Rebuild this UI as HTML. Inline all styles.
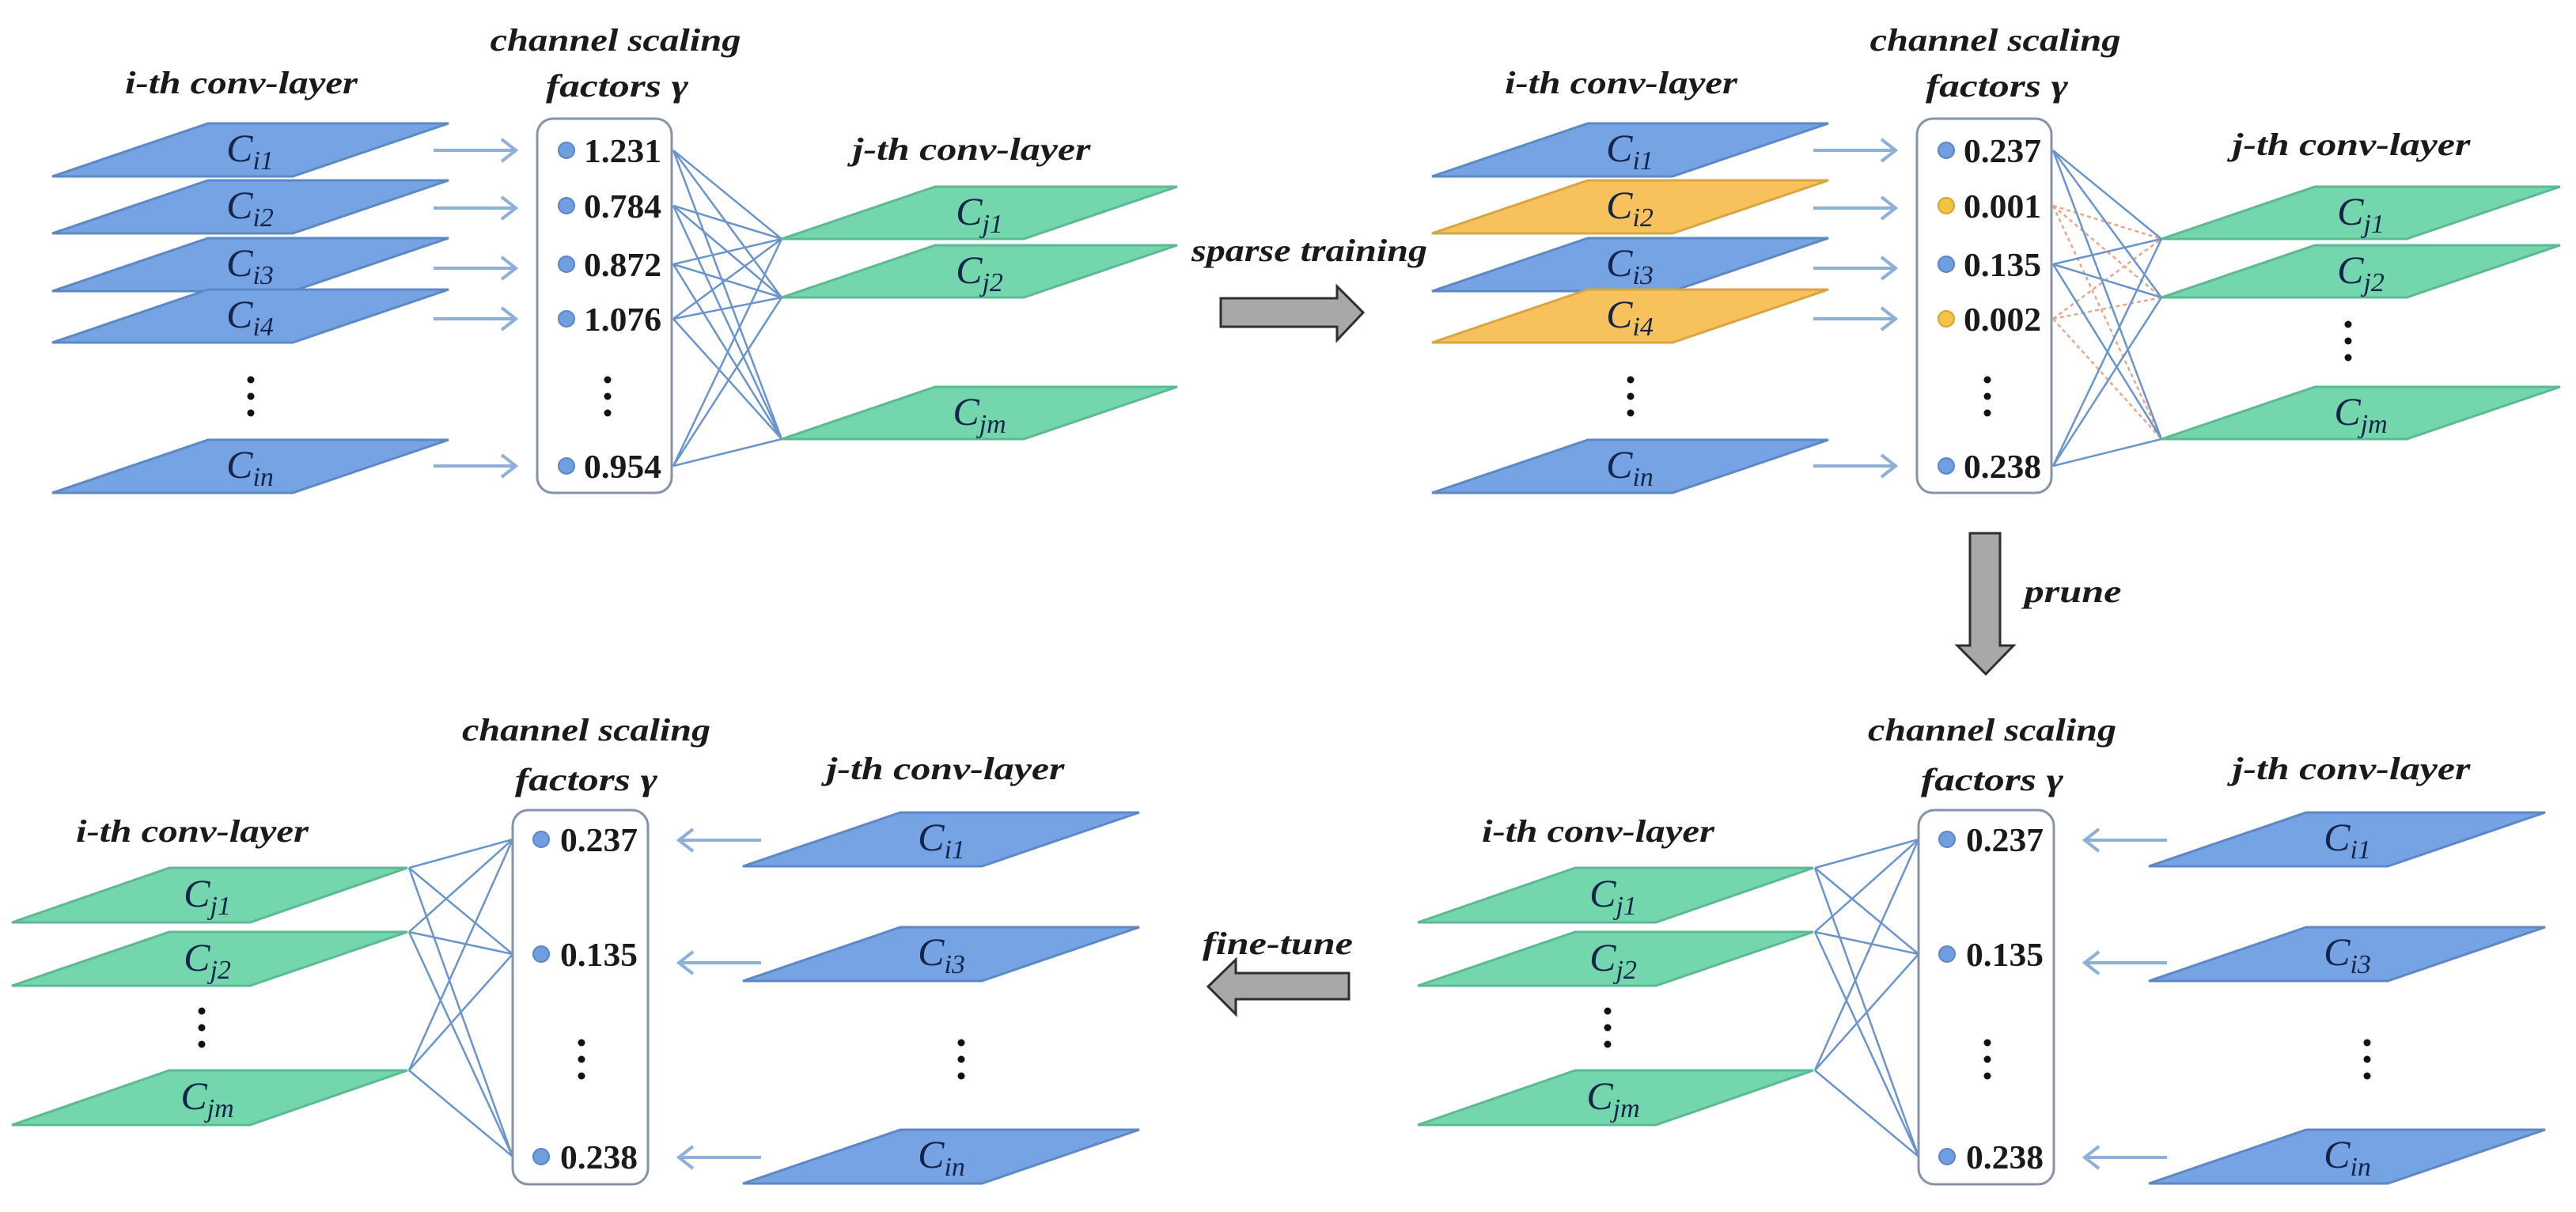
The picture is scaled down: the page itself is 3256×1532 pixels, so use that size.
<!DOCTYPE html>
<html><head><meta charset="utf-8">
<style>
html,body{margin:0;padding:0;background:#fff;}
svg{display:block;}
.lb{font-family:"Liberation Serif",serif;font-style:italic;font-weight:bold;font-size:40px;fill:#1a1a1a;}
.v{font-family:"Liberation Serif",serif;font-weight:bold;font-size:42px;fill:#1a1a1a;}
.c{font-family:"Liberation Serif",serif;font-style:italic;font-size:50px;fill:#15244a;}
.s{font-size:34px;}
.pb{fill:#76a3e3;stroke:#5d88c6;stroke-width:3;}
.po{fill:#f7c15c;stroke:#d9a544;stroke-width:3;}
.pg{fill:#74d6ad;stroke:#5cb993;stroke-width:3;}
.box{fill:#fff;stroke:#8593aa;stroke-width:3;}
.ar{stroke:#8db0da;stroke-width:4;fill:none;}
.cn{stroke:#6a95cc;stroke-width:2.5;fill:none;}
.cd{stroke:#e8a78c;stroke-width:2.5;fill:none;stroke-dasharray:5 4;}
.ga{fill:#a9a7a8;stroke:#2f2f2f;stroke-width:3;}
</style></head>
<body>
<svg width="3256" height="1532" viewBox="0 0 3256 1532" xmlns="http://www.w3.org/2000/svg">
<defs>
<g id="dots"><circle cx="0" cy="0" r="4.5" fill="#111"/><circle cx="0" cy="21" r="4.5" fill="#111"/><circle cx="0" cy="42" r="4.5" fill="#111"/></g>
<g id="arR"><line x1="0" y1="0" x2="102" y2="0" class="ar"/><polyline points="86,-14 104,0 86,14" class="ar"/></g>
<g id="arL"><line x1="0" y1="0" x2="104" y2="0" class="ar"/><polyline points="18,-14 0,0 18,14" class="ar"/></g>
</defs>

<!-- ================= PANEL 1 ================= -->
<text class="lb" x="305" y="118" text-anchor="middle" textLength="294" lengthAdjust="spacingAndGlyphs">i-th conv-layer</text>
<text class="lb" x="778" y="64" text-anchor="middle" textLength="317" lengthAdjust="spacingAndGlyphs">channel scaling</text>
<text class="lb" x="780" y="122" text-anchor="middle" textLength="180" lengthAdjust="spacingAndGlyphs">factors γ</text>
<text class="lb" x="1228" y="202" text-anchor="middle" textLength="301" lengthAdjust="spacingAndGlyphs">j-th conv-layer</text>

<polygon class="pb" points="263,156 567,156 370,223 66,223"/>
<text class="c" x="316" y="204" text-anchor="middle">C<tspan class="s" dy="10">i1</tspan></text>
<polygon class="pb" points="263,228 567,228 370,295 66,295"/>
<text class="c" x="316" y="276" text-anchor="middle">C<tspan class="s" dy="10">i2</tspan></text>
<polygon class="pb" points="263,301 567,301 370,368 66,368"/>
<text class="c" x="316" y="349" text-anchor="middle">C<tspan class="s" dy="10">i3</tspan></text>
<polygon class="pb" points="263,366 567,366 370,433 66,433"/>
<text class="c" x="316" y="414" text-anchor="middle">C<tspan class="s" dy="10">i4</tspan></text>
<use href="#dots" x="317" y="480"/>
<polygon class="pb" points="263,556 567,556 370,623 66,623"/>
<text class="c" x="316" y="604" text-anchor="middle">C<tspan class="s" dy="10">in</tspan></text>

<use href="#arR" x="548" y="190"/>
<use href="#arR" x="548" y="263"/>
<use href="#arR" x="548" y="339"/>
<use href="#arR" x="548" y="403"/>
<use href="#arR" x="548" y="589"/>

<rect class="box" x="679" y="150" width="170" height="473" rx="20"/>
<circle cx="716" cy="190" r="10" fill="#6f9fe0" stroke="#5a86c5" stroke-width="2"/>
<text class="v" x="738" y="205" textLength="98" lengthAdjust="spacingAndGlyphs">1.231</text>
<circle cx="716" cy="260" r="10" fill="#6f9fe0" stroke="#5a86c5" stroke-width="2"/>
<text class="v" x="738" y="275" textLength="98" lengthAdjust="spacingAndGlyphs">0.784</text>
<circle cx="716" cy="334" r="10" fill="#6f9fe0" stroke="#5a86c5" stroke-width="2"/>
<text class="v" x="738" y="349" textLength="98" lengthAdjust="spacingAndGlyphs">0.872</text>
<circle cx="716" cy="403" r="10" fill="#6f9fe0" stroke="#5a86c5" stroke-width="2"/>
<text class="v" x="738" y="418" textLength="98" lengthAdjust="spacingAndGlyphs">1.076</text>
<use href="#dots" x="768" y="480"/>
<circle cx="716" cy="589" r="10" fill="#6f9fe0" stroke="#5a86c5" stroke-width="2"/>
<text class="v" x="738" y="604" textLength="98" lengthAdjust="spacingAndGlyphs">0.954</text>

<g class="cn">
<path d="M851,190 L988,302 M851,190 L988,376 M851,190 L988,555
M851,260 L988,302 M851,260 L988,376 M851,260 L988,555
M851,334 L988,302 M851,334 L988,376 M851,334 L988,555
M851,403 L988,302 M851,403 L988,376 M851,403 L988,555
M851,589 L988,302 M851,589 L988,376 M851,589 L988,555"/>
</g>

<polygon class="pg" points="1182,236 1488,236 1294,302 988,302"/>
<text class="c" x="1238" y="284" text-anchor="middle">C<tspan class="s" dy="10">j1</tspan></text>
<polygon class="pg" points="1182,310 1488,310 1294,376 988,376"/>
<text class="c" x="1238" y="358" text-anchor="middle">C<tspan class="s" dy="10">j2</tspan></text>
<polygon class="pg" points="1182,489 1488,489 1294,555 988,555"/>
<text class="c" x="1238" y="537" text-anchor="middle">C<tspan class="s" dy="10">jm</tspan></text>

<!-- sparse training arrow -->
<text class="lb" x="1655" y="330" text-anchor="middle" textLength="298" lengthAdjust="spacingAndGlyphs">sparse training</text>
<polygon class="ga" points="1543,377 1690,377 1690,362 1723,395 1690,430 1690,413 1543,413"/>

<!-- ================= PANEL 2 ================= -->
<g transform="translate(1744,0)">
<text class="lb" x="305" y="118" text-anchor="middle" textLength="294" lengthAdjust="spacingAndGlyphs">i-th conv-layer</text>
<text class="lb" x="778" y="64" text-anchor="middle" textLength="317" lengthAdjust="spacingAndGlyphs">channel scaling</text>
<text class="lb" x="780" y="122" text-anchor="middle" textLength="180" lengthAdjust="spacingAndGlyphs">factors γ</text>
<text class="lb" x="1228" y="196" text-anchor="middle" textLength="301" lengthAdjust="spacingAndGlyphs">j-th conv-layer</text>

<polygon class="pb" points="263,156 567,156 370,223 66,223"/>
<text class="c" x="316" y="204" text-anchor="middle">C<tspan class="s" dy="10">i1</tspan></text>
<polygon class="po" points="263,228 567,228 370,295 66,295"/>
<text class="c" x="316" y="276" text-anchor="middle">C<tspan class="s" dy="10">i2</tspan></text>
<polygon class="pb" points="263,301 567,301 370,368 66,368"/>
<text class="c" x="316" y="349" text-anchor="middle">C<tspan class="s" dy="10">i3</tspan></text>
<polygon class="po" points="263,366 567,366 370,433 66,433"/>
<text class="c" x="316" y="414" text-anchor="middle">C<tspan class="s" dy="10">i4</tspan></text>
<use href="#dots" x="317" y="480"/>
<polygon class="pb" points="263,556 567,556 370,623 66,623"/>
<text class="c" x="316" y="604" text-anchor="middle">C<tspan class="s" dy="10">in</tspan></text>

<use href="#arR" x="548" y="190"/>
<use href="#arR" x="548" y="263"/>
<use href="#arR" x="548" y="339"/>
<use href="#arR" x="548" y="403"/>
<use href="#arR" x="548" y="589"/>

<rect class="box" x="679" y="150" width="170" height="473" rx="20"/>
<circle cx="716" cy="190" r="10" fill="#6f9fe0" stroke="#5a86c5" stroke-width="2"/>
<text class="v" x="738" y="205" textLength="98" lengthAdjust="spacingAndGlyphs">0.237</text>
<circle cx="716" cy="260" r="10" fill="#f3c343" stroke="#d2a32d" stroke-width="2"/>
<text class="v" x="738" y="275" textLength="98" lengthAdjust="spacingAndGlyphs">0.001</text>
<circle cx="716" cy="334" r="10" fill="#6f9fe0" stroke="#5a86c5" stroke-width="2"/>
<text class="v" x="738" y="349" textLength="98" lengthAdjust="spacingAndGlyphs">0.135</text>
<circle cx="716" cy="403" r="10" fill="#f3c343" stroke="#d2a32d" stroke-width="2"/>
<text class="v" x="738" y="418" textLength="98" lengthAdjust="spacingAndGlyphs">0.002</text>
<use href="#dots" x="768" y="480"/>
<circle cx="716" cy="589" r="10" fill="#6f9fe0" stroke="#5a86c5" stroke-width="2"/>
<text class="v" x="738" y="604" textLength="98" lengthAdjust="spacingAndGlyphs">0.238</text>

<path class="cd" d="M851,260 L988,302 M851,260 L988,376 M851,260 L988,555
M851,403 L988,302 M851,403 L988,376 M851,403 L988,555"/>
<path class="cn" d="M851,190 L988,302 M851,190 L988,376 M851,190 L988,555
M851,334 L988,302 M851,334 L988,376 M851,334 L988,555
M851,589 L988,302 M851,589 L988,376 M851,589 L988,555"/>

<polygon class="pg" points="1182,236 1492,236 1298,302 988,302"/>
<text class="c" x="1240" y="284" text-anchor="middle">C<tspan class="s" dy="10">j1</tspan></text>
<polygon class="pg" points="1182,310 1492,310 1298,376 988,376"/>
<text class="c" x="1240" y="358" text-anchor="middle">C<tspan class="s" dy="10">j2</tspan></text>
<use href="#dots" x="1224" y="410"/>
<polygon class="pg" points="1182,489 1492,489 1298,555 988,555"/>
<text class="c" x="1240" y="537" text-anchor="middle">C<tspan class="s" dy="10">jm</tspan></text>
</g>

<!-- prune arrow -->
<polygon class="ga" points="2490,674 2528,674 2528,816 2545,816 2510,852 2474,816 2490,816"/>
<text class="lb" x="2620" y="761" text-anchor="middle" textLength="123" lengthAdjust="spacingAndGlyphs">prune</text>

<!-- fine-tune arrow -->
<text class="lb" x="1615" y="1206" text-anchor="middle" textLength="190" lengthAdjust="spacingAndGlyphs">fine-tune</text>
<polygon class="ga" points="1705,1230 1562,1230 1562,1213 1527,1247 1562,1282 1562,1263 1705,1263"/>

<!-- ================= PANEL 3 & 4 ================= -->
<g id="p3">
<text class="lb" x="243" y="1064" text-anchor="middle" textLength="294" lengthAdjust="spacingAndGlyphs">i-th conv-layer</text>
<text class="lb" x="741" y="936" text-anchor="middle" textLength="314" lengthAdjust="spacingAndGlyphs">channel scaling</text>
<text class="lb" x="741" y="999" text-anchor="middle" textLength="180" lengthAdjust="spacingAndGlyphs">factors γ</text>
<text class="lb" x="1195" y="985" text-anchor="middle" textLength="301" lengthAdjust="spacingAndGlyphs">j-th conv-layer</text>

<polygon class="pg" points="214,1097 515,1097 316,1166 15,1166"/>
<text class="c" x="262" y="1146" text-anchor="middle">C<tspan class="s" dy="10">j1</tspan></text>
<polygon class="pg" points="214,1178 515,1178 316,1246 15,1246"/>
<text class="c" x="262" y="1227" text-anchor="middle">C<tspan class="s" dy="10">j2</tspan></text>
<use href="#dots" x="255" y="1278"/>
<polygon class="pg" points="214,1353 515,1353 316,1422 15,1422"/>
<text class="c" x="262" y="1402" text-anchor="middle">C<tspan class="s" dy="10">jm</tspan></text>

<path class="cn" d="M517,1097 L648,1061 M517,1097 L648,1206 M517,1097 L648,1462
M517,1178 L648,1061 M517,1178 L648,1206 M517,1178 L648,1462
M517,1353 L648,1061 M517,1353 L648,1206 M517,1353 L648,1462"/>

<rect class="box" x="648" y="1024" width="171" height="473" rx="20"/>
<circle cx="684" cy="1061" r="10" fill="#6f9fe0" stroke="#5a86c5" stroke-width="2"/>
<text class="v" x="708" y="1076" textLength="98" lengthAdjust="spacingAndGlyphs">0.237</text>
<circle cx="684" cy="1206" r="10" fill="#6f9fe0" stroke="#5a86c5" stroke-width="2"/>
<text class="v" x="708" y="1221" textLength="98" lengthAdjust="spacingAndGlyphs">0.135</text>
<use href="#dots" x="735" y="1318"/>
<circle cx="684" cy="1462" r="10" fill="#6f9fe0" stroke="#5a86c5" stroke-width="2"/>
<text class="v" x="708" y="1477" textLength="98" lengthAdjust="spacingAndGlyphs">0.238</text>

<use href="#arL" x="858" y="1062"/>
<use href="#arL" x="858" y="1217"/>
<use href="#arL" x="858" y="1463"/>

<polygon class="pb" points="1138,1027 1440,1027 1241,1095 939,1095"/>
<text class="c" x="1190" y="1075" text-anchor="middle">C<tspan class="s" dy="10">i1</tspan></text>
<polygon class="pb" points="1138,1172 1440,1172 1241,1240 939,1240"/>
<text class="c" x="1190" y="1220" text-anchor="middle">C<tspan class="s" dy="10">i3</tspan></text>
<use href="#dots" x="1215" y="1318"/>
<polygon class="pb" points="1138,1428 1440,1428 1241,1496 939,1496"/>
<text class="c" x="1190" y="1476" text-anchor="middle">C<tspan class="s" dy="10">in</tspan></text>
</g>
<use href="#p3" x="1777" y="0"/>
</svg>
</body></html>
